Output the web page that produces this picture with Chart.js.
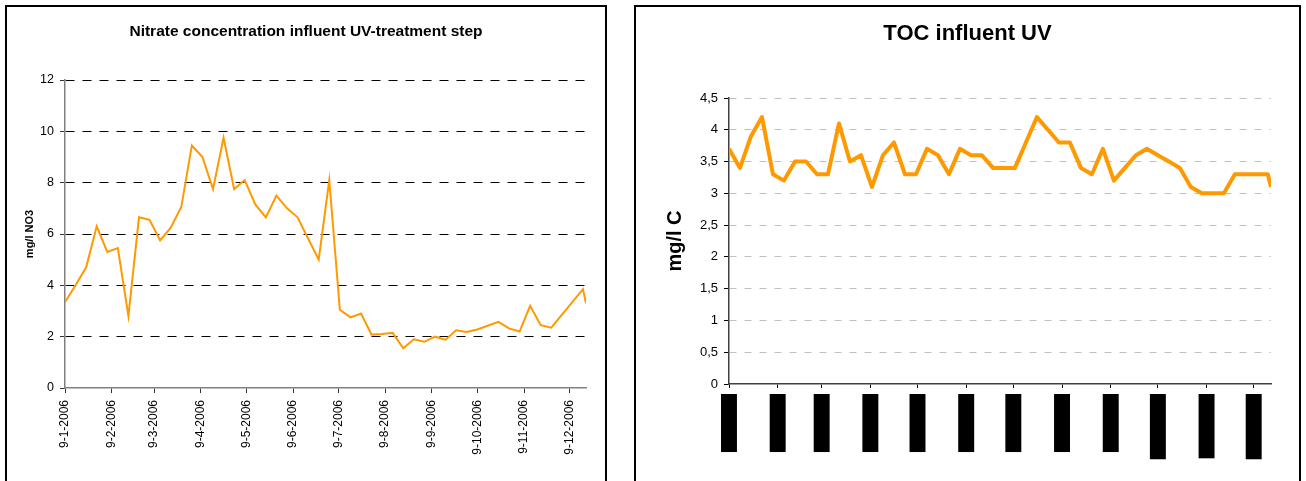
<!DOCTYPE html>
<html>
<head>
<meta charset="utf-8">
<script src="https://cdn.jsdelivr.net/npm/chart.js@4.4.1/dist/chart.umd.min.js"></script>
<style>
  html, body { margin: 0; padding: 0; background: #fff; }
  body { width: 1306px; height: 481px; overflow: hidden; position: relative; }
  .frame { position: absolute; top: 5px; border: 2px solid #000; background: #fff; }
  #f1 { left: 5px; width: 598px; height: 520px; }
  #f2 { left: 634px; width: 663px; height: 520px; }
  canvas { display: block; }
</style>
</head>
<body>
<div class="frame" id="f1"><canvas id="c1" width="598" height="474"></canvas></div>
<div class="frame" id="f2"><canvas id="c2" width="663" height="474"></canvas></div>
<script>
// Weekly sampling dates and measured nitrate (mg/l NO3)
const nitrateDates = [
  '2006-01-09','2006-01-16','2006-01-23','2006-01-30',
  '2006-02-06','2006-02-13','2006-02-20','2006-02-27',
  '2006-03-06','2006-03-13','2006-03-20','2006-03-27',
  '2006-04-03','2006-04-10','2006-04-17','2006-04-24',
  '2006-05-01','2006-05-08','2006-05-15','2006-05-22','2006-05-29',
  '2006-06-05','2006-06-12','2006-06-26',
  '2006-07-03','2006-07-10','2006-07-17','2006-07-24','2006-07-31',
  '2006-08-07','2006-08-14','2006-08-21','2006-08-28',
  '2006-09-04','2006-09-11','2006-09-18','2006-09-25',
  '2006-10-02','2006-10-09','2006-10-23','2006-10-30',
  '2006-11-06','2006-11-13','2006-11-20','2006-11-27',
  '2006-12-18','2006-12-20'
];
const nitrateValues = [
  3.35, 4.0, 4.7, 6.3,
  5.3, 5.45, 2.8, 6.65,
  6.55, 5.75, 6.25, 7.05,
  9.45, 9.0, 7.75, 9.75,
  7.75, 8.1, 7.15, 6.65, 7.5,
  7.0, 6.65, 5.0,
  8.1, 3.05, 2.75, 2.9, 2.08,
  2.1, 2.15, 1.55, 1.9,
  1.8, 2.0, 1.88, 2.25,
  2.18, 2.28, 2.58, 2.32,
  2.2, 3.2, 2.45, 2.35,
  3.85, 3.3
];

// Weekly sampling dates and measured TOC (mg/l C)
const tocDates = [
  '2006-01-09','2006-01-16','2006-01-23','2006-01-30',
  '2006-02-06','2006-02-13','2006-02-20','2006-02-27',
  '2006-03-06','2006-03-13','2006-03-20','2006-03-27',
  '2006-04-03','2006-04-10','2006-04-17','2006-04-24',
  '2006-05-01','2006-05-08','2006-05-15','2006-05-22','2006-05-29',
  '2006-06-05','2006-06-12','2006-06-19','2006-06-26',
  '2006-07-03','2006-07-10','2006-07-17','2006-07-24','2006-07-31',
  '2006-08-07','2006-08-14','2006-08-21','2006-08-28',
  '2006-09-04','2006-09-11','2006-09-18','2006-09-25',
  '2006-10-02','2006-10-09','2006-10-16','2006-10-23','2006-10-30',
  '2006-11-06','2006-11-13','2006-11-20','2006-11-27',
  '2006-12-04','2006-12-11','2006-12-18','2006-12-20'
];
const tocValues = [
  3.7, 3.4, 3.9, 4.2,
  3.3, 3.2, 3.5, 3.5,
  3.3, 3.3, 4.1, 3.5,
  3.6, 3.1, 3.6, 3.8,
  3.3, 3.3, 3.7, 3.6, 3.3,
  3.7, 3.6, 3.6, 3.4,
  3.4, 3.4, 3.8, 4.2, 4.0,
  3.8, 3.8, 3.4, 3.3,
  3.7, 3.2, 3.4, 3.6,
  3.7, 3.6, 3.5, 3.4, 3.1,
  3.0, 3.0, 3.0, 3.3,
  3.3, 3.3, 3.3, 3.1
];

// Monthly axis labels (day-month-year)
const monthTickLabels = [
  '9-1-2006','9-2-2006','9-3-2006','9-4-2006','9-5-2006','9-6-2006',
  '9-7-2006','9-8-2006','9-9-2006','9-10-2006','9-11-2006','9-12-2006'
];

const nitrateYTicks = [0, 2, 4, 6, 8, 10, 12];
const tocYTicks = [0, 0.5, 1, 1.5, 2, 2.5, 3, 3.5, 4, 4.5];

const FONT = "Arial, 'Liberation Sans', sans-serif";
Chart.defaults.font.family = FONT;
Chart.defaults.color = '#000';

const ORIGIN = Date.UTC(2006, 0, 9);
const DAY = 86400000;
function isoDay(s) {
  const [y, m, d] = s.split('-').map(Number);
  return (Date.UTC(y, m - 1, d) - ORIGIN) / DAY;
}
function labelDay(s) {
  const [d, m, y] = s.split('-').map(Number);
  return (Date.UTC(y, m - 1, d) - ORIGIN) / DAY;
}
const tickDays = monthTickLabels.map(labelDay);

function points(dates, values) {
  return dates.map((d, i) => ({ x: isoDay(d), y: values[i] }));
}

function dateAxis(lastDay, ticks, grid, border, height) {
  return {
    type: 'linear',
    min: 0,
    max: lastDay,
    afterBuildTicks: s => { s.ticks = tickDays.map(v => ({ value: v })); },
    ticks: Object.assign({
      autoSkip: false,
      minRotation: 90,
      maxRotation: 90,
      callback: (v, i) => monthTickLabels[i]
    }, ticks),
    grid: grid,
    border: border,
    afterFit: s => { s.height = height; }
  };
}

// empty right-hand gutter so the plot area ends short of the frame
function gutter(width) {
  return {
    type: 'linear', position: 'right', display: true,
    grid: { display: false, drawTicks: false },
    border: { display: false },
    ticks: { display: false },
    afterFit: s => { s.width = width; }
  };
}

const clear = 'rgba(0,0,0,0)';

// Nitrate chart
new Chart(document.getElementById('c1'), {
  type: 'line',
  data: {
    datasets: [{
      data: points(nitrateDates, nitrateValues),
      borderColor: '#FF9900',
      borderWidth: 2,
      pointRadius: 0,
      tension: 0,
      fill: false
    }]
  },
  options: {
    responsive: false,
    animation: false,
    events: [],
    layout: { padding: 0 },
    plugins: {
      legend: { display: false },
      tooltip: { enabled: false },
      title: {
        display: true,
        text: 'Nitrate concentration influent UV-treatment step',
        color: '#000',
        font: { size: 15.5, weight: 'bold', lineHeight: 1 },
        padding: { top: 17, bottom: 40.5 }
      }
    },
    scales: {
      x: dateAxis(isoDay(nitrateDates[nitrateDates.length - 1]),
        { color: '#000', font: { size: 12 }, padding: 7 },
        { drawOnChartArea: false, drawTicks: true, tickLength: 5, tickColor: '#333' },
        { color: '#808080', width: 1.5 },
        93),
      y: {
        min: nitrateYTicks[0],
        max: nitrateYTicks[nitrateYTicks.length - 1],
        afterBuildTicks: s => { s.ticks = nitrateYTicks.map(v => ({ value: v })); },
        ticks: { color: '#000', font: { size: 12.5 }, padding: 6 },
        grid: {
          color: c => (c.tick && c.tick.value === 0) ? clear : '#000',
          lineWidth: 1, tickLength: 5, tickColor: '#333'
        },
        border: { color: '#808080', width: 1.5, dash: [9, 8] },
        title: {
          display: true, text: 'mg/l NO3', color: '#000',
          font: { size: 11, weight: 'bold', lineHeight: 1 },
          padding: { top: 17.5, bottom: 0 }
        },
        afterFit: s => { s.width = 58; }
      },
      gutter: gutter(19)
    }
  }
});

// TOC chart
new Chart(document.getElementById('c2'), {
  type: 'line',
  data: {
    datasets: [{
      data: points(tocDates, tocValues),
      borderColor: '#FF9900',
      borderWidth: 4,
      borderJoinStyle: 'round',
      pointRadius: 0,
      tension: 0,
      fill: false
    }]
  },
  options: {
    responsive: false,
    animation: false,
    events: [],
    layout: { padding: 0 },
    plugins: {
      legend: { display: false },
      tooltip: { enabled: false },
      title: {
        display: true,
        text: 'TOC influent UV',
        color: '#000',
        font: { size: 22, weight: 'bold', lineHeight: 1 },
        padding: { top: 16, bottom: 53 }
      }
    },
    scales: {
      x: dateAxis(isoDay(tocDates[tocDates.length - 1]),
        {
          color: '#000', font: { size: 13, lineHeight: 1.15 }, padding: 9,
          labelOffset: -7.5,
          showLabelBackdrop: true, backdropColor: '#000',
          backdropPadding: { left: 3, right: 3, top: 0.5, bottom: 0.5 }
        },
        { drawOnChartArea: false, drawTicks: true, tickLength: 4, tickColor: '#000' },
        { color: '#404040', width: 1.5 },
        97),
      y: {
        min: tocYTicks[0],
        max: tocYTicks[tocYTicks.length - 1],
        afterBuildTicks: s => { s.ticks = tocYTicks.map(v => ({ value: v })); },
        ticks: {
          color: '#000', font: { size: 13 }, padding: 6,
          callback: v => String(v).replace('.', ',')
        },
        grid: {
          color: c => (c.tick && c.tick.value === 0) ? clear : '#c0c0c0',
          lineWidth: 1, tickLength: 5, tickColor: '#000'
        },
        border: { color: '#404040', width: 1.5, dash: [7, 8] },
        title: {
          display: true, text: 'mg/l C', color: '#000',
          font: { size: 20, weight: 'bold', lineHeight: 1 },
          padding: { top: 29, bottom: 0 }
        },
        afterFit: s => { s.width = 93; }
      },
      gutter: gutter(28)
    }
  }
});
</script>
</body>
</html>
